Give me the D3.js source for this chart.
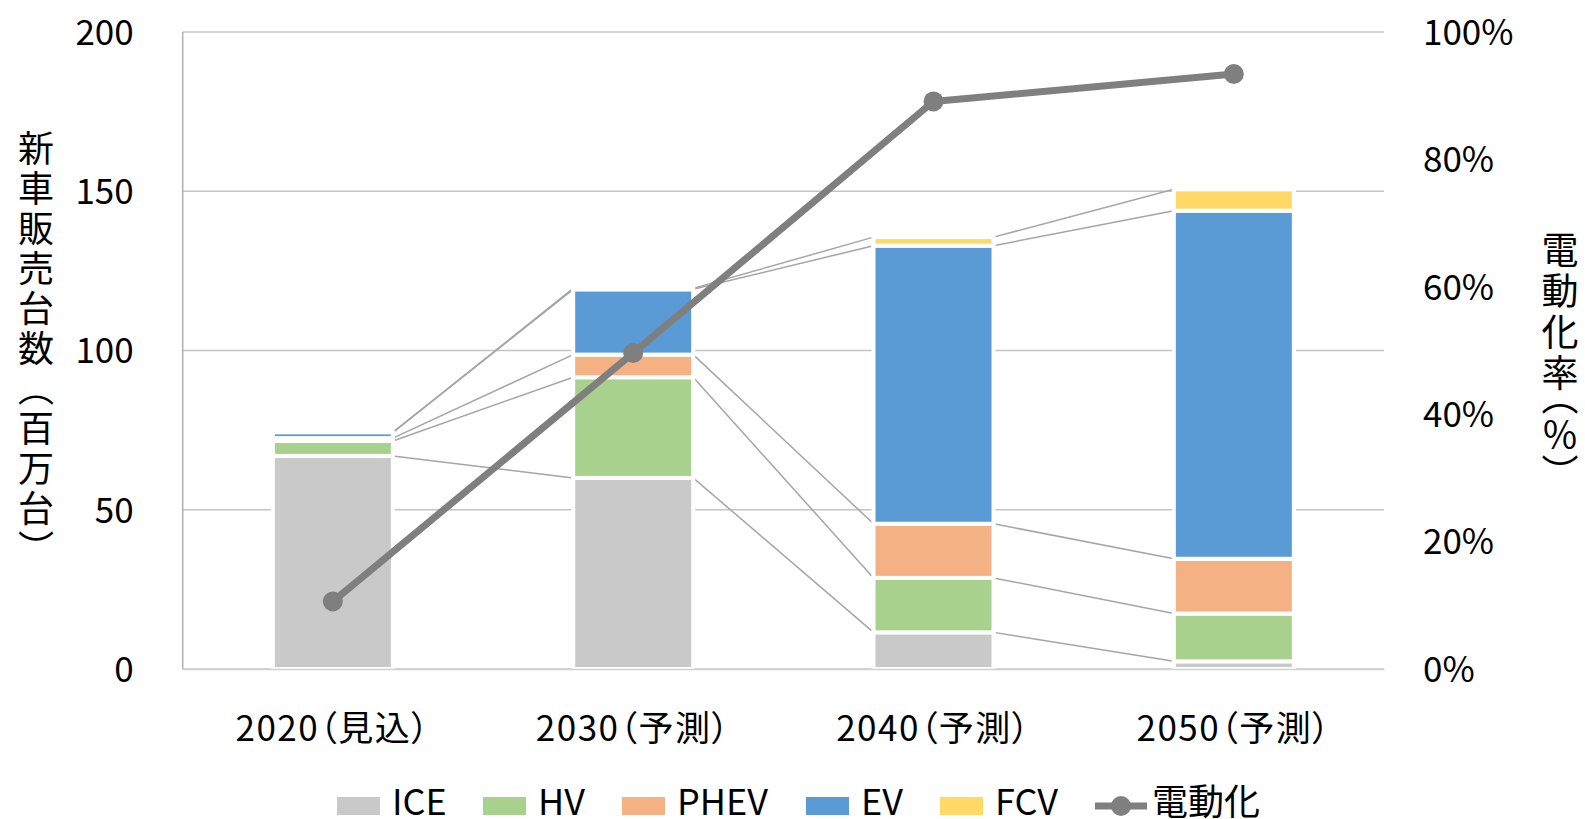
<!DOCTYPE html>
<html>
<head>
<meta charset="utf-8">
<script src="https://cdn.jsdelivr.net/npm/d3@7"></script>
<style>
  body { margin: 0; background: #fff; }
  svg text { font-family: "Noto Sans CJK JP", "Noto Sans", sans-serif; fill: #000; }
</style>
</head>
<body>
<div id="chart"></div>
<script>
const w = 1585;
const h = 819;

// data (million vehicles)
const categories = ["2020（見込）", "2030（予測）", "2040（予測）", "2050（予測）"];
const seriesNames = ["ICE", "HV", "PHEV", "EV", "FCV"];
const ice = [66.9, 60.0, 11.5, 2.4];
const hv = [4.7, 31.6, 17.1, 15.0];
const phev = [0.9, 7.1, 17.0, 17.2];
const ev = [1.8, 20.5, 87.3, 109.3];
const fcv = [0, 0.3, 2.7, 6.7];
const rate = [10.6, 49.6, 89.1, 93.4]; // 電動化率 %
const leftTicks = [0, 50, 100, 150, 200];
const rightTicks = [0, 20, 40, 60, 80, 100];
const colors = ["#C9C9C9", "#A9D18E", "#F4B183", "#5B9BD5", "#FFD966"];
const lineColor = "#7F7F7F";

const plotL = 182.7, plotR = 1384, plotT = 32, plotB = 669;

const rows = categories.map((c, i) => ({
  cat: c, ICE: ice[i], HV: hv[i], PHEV: phev[i], EV: ev[i], FCV: fcv[i]
}));
const stacked = d3.stack().keys(seriesNames)(rows);

const x = d3.scaleBand().domain(categories).range([plotL, plotR]).padding(0);
const y = d3.scaleLinear().domain([0, 200]).range([plotB, plotT]);
const y2 = d3.scaleLinear().domain([0, 100]).range([plotB, plotT]);
const barW = 120;

const svg = d3.select("#chart").append("svg")
  .attr("width", w)
  .attr("height", h);

// gridlines
svg.append("g").selectAll("line")
  .data(leftTicks)
  .enter().append("line")
  .attr("x1", plotL).attr("x2", plotR)
  .attr("y1", d => y(d)).attr("y2", d => y(d))
  .attr("stroke", "#C4C4C4")
  .attr("stroke-width", 1.5);

// left axis line
svg.append("line")
  .attr("x1", plotL).attr("x2", plotL)
  .attr("y1", plotT).attr("y2", plotB)
  .attr("stroke", "#B0B0B0")
  .attr("stroke-width", 1.5);

// series lines between bars
const cx = d => x(d) + x.bandwidth() / 2;
const serLines = svg.append("g");
stacked.forEach(s => {
  for (let i = 0; i < categories.length - 1; i++) {
    serLines.append("line")
      .attr("x1", cx(categories[i]) + barW / 2)
      .attr("x2", cx(categories[i + 1]) - barW / 2)
      .attr("y1", y(s[i][1]))
      .attr("y2", y(s[i + 1][1]))
      .attr("stroke", "#A5A5A5")
      .attr("stroke-width", 1.5);
  }
});

// stacked bars
svg.append("g").selectAll("g")
  .data(stacked)
  .enter().append("g")
  .attr("fill", (d, i) => colors[i])
  .selectAll("rect")
  .data(d => d)
  .enter().append("rect")
  .attr("x", d => cx(d.data.cat) - barW / 2)
  .attr("y", d => y(d[1]))
  .attr("width", barW)
  .attr("height", d => y(d[0]) - y(d[1]))
  .attr("stroke", "#fff")
  .attr("stroke-width", 4);

// left axis
const yAxis = d3.axisLeft(y).tickValues(leftTicks).tickSize(0).tickPadding(49);
svg.append("g")
  .attr("transform", "translate(" + plotL + ",0)")
  .call(yAxis)
  .call(g => g.select(".domain").remove())
  .selectAll("text").style("font-size", "35px").attr("dy", "0.35em");

// right axis
const y2Axis = d3.axisRight(y2).tickValues(rightTicks).tickSize(0).tickPadding(39)
  .tickFormat(d => d + "%");
svg.append("g")
  .attr("transform", "translate(" + plotR + ",0)")
  .call(y2Axis)
  .call(g => g.select(".domain").remove())
  .selectAll("text").style("font-size", "35px").attr("dy", "0.35em");

// x axis
const xAxis = d3.axisBottom(x).tickSize(0).tickPadding(47);
svg.append("g")
  .attr("transform", "translate(0," + plotB + ")")
  .call(xAxis)
  .call(g => g.select(".domain").attr("stroke", "#D0D0D0").attr("stroke-width", 1.5))
  .selectAll("text")
  .style("font-size", "35px")
  .style("letter-spacing", "1.5px")
  .style("font-feature-settings", "'palt'");

// 電動化率 line
const line = d3.line()
  .x((d, i) => cx(categories[i]))
  .y(d => y2(d));
svg.append("path")
  .datum(rate)
  .attr("d", line)
  .attr("fill", "none")
  .attr("stroke", lineColor)
  .attr("stroke-width", 7)
  .attr("stroke-linejoin", "round");
svg.append("g").selectAll("circle")
  .data(rate)
  .enter().append("circle")
  .attr("cx", (d, i) => cx(categories[i]))
  .attr("cy", d => y2(d))
  .attr("r", 10)
  .attr("fill", lineColor);

// axis titles (vertical)
svg.append("text")
  .attr("x", 36)
  .attr("y", 350)
  .attr("text-anchor", "middle")
  .style("writing-mode", "vertical-rl")
  .style("font-size", "36px")
  .style("letter-spacing", "4px")
  .text("新車販売台数（百万台）");

svg.append("text")
  .attr("x", 1560)
  .attr("y", 355)
  .attr("text-anchor", "middle")
  .style("writing-mode", "vertical-rl")
  .style("font-size", "37px")
  .style("letter-spacing", "4px")
  .style("font-feature-settings", "'vpal'")
  .text("電動化率（％）");

// legend
const legendItems = [
  { name: "ICE", x: 337 }, { name: "HV", x: 483 }, { name: "PHEV", x: 622 },
  { name: "EV", x: 806 }, { name: "FCV", x: 940 }
];
const lg = svg.append("g");
legendItems.forEach((it, i) => {
  lg.append("rect")
    .attr("x", it.x).attr("y", 797)
    .attr("width", 43).attr("height", 18)
    .attr("fill", colors[i]);
  lg.append("text")
    .attr("x", it.x + 55).attr("y", 815)
    .style("font-size", "36px")
    .text(it.name);
});
lg.append("line")
  .attr("x1", 1095).attr("x2", 1147)
  .attr("y1", 806).attr("y2", 806)
  .attr("stroke", lineColor).attr("stroke-width", 7);
lg.append("circle")
  .attr("cx", 1121).attr("cy", 806).attr("r", 10)
  .attr("fill", lineColor);
lg.append("text")
  .attr("x", 1152).attr("y", 815)
  .style("font-size", "36px")
  .text("電動化");
</script>
</body>
</html>
